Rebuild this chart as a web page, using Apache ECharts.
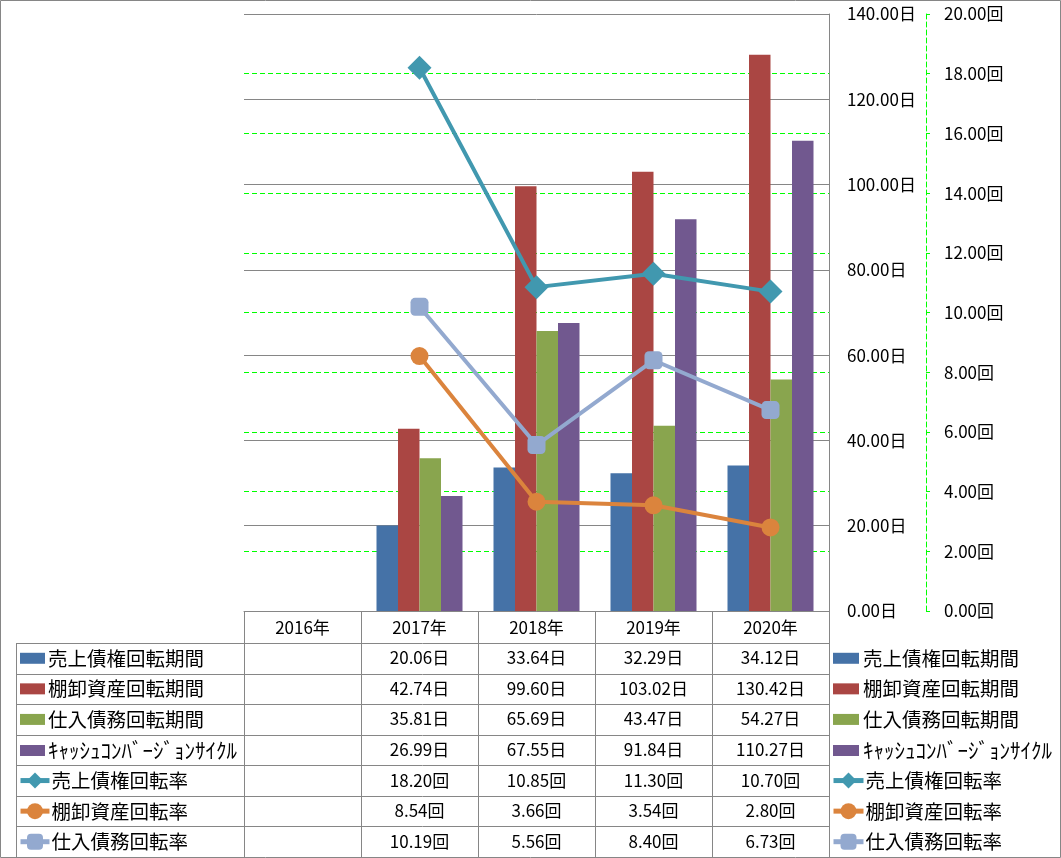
<!DOCTYPE html>
<html>
<head>
<meta charset="utf-8">
<script src="https://cdn.jsdelivr.net/npm/echarts@6/dist/echarts.min.js"></script>
<style>
html,body{margin:0;padding:0;background:#fff;}
#c{width:1061px;height:858px;}
</style>
</head>
<body>
<div id="c"></div>
<script>
// ---- data ----
const categories = ['2016年', '2017年', '2018年', '2019年', '2020年'];
const arDays  = [null, 20.06, 33.64, 32.29, 34.12];
const invDays = [null, 42.74, 99.60, 103.02, 130.42];
const apDays  = [null, 35.81, 65.69, 43.47, 54.27];
const cccDays = [null, 26.99, 67.55, 91.84, 110.27];
const arTurn  = [null, 18.20, 10.85, 11.30, 10.70];
const invTurn = [null, 8.54, 3.66, 3.54, 2.80];
const apTurn  = [null, 10.19, 5.56, 8.40, 6.73];
const dayAxis  = { min: 0, max: 140, interval: 20, unit: '日' };
const turnAxis = { min: 0, max: 20, interval: 2, unit: '回' };

const names = ['売上債権回転期間', '棚卸資産回転期間', '仕入債務回転期間', 'ｷｬｯｼｭｺﾝﾊﾞｰｼﾞｮﾝｻｲｸﾙ',
               '売上債権回転率', '棚卸資産回転率', '仕入債務回転率'];
const barNames = names.slice(0, 4);
const lineNames = names.slice(4);
const rows = [
  { vals: arDays, unit: '日' }, { vals: invDays, unit: '日' }, { vals: apDays, unit: '日' }, { vals: cccDays, unit: '日' },
  { vals: arTurn, unit: '回' }, { vals: invTurn, unit: '回' }, { vals: apTurn, unit: '回' }
];
const colors = ['#4572A7', '#AA4643', '#89A54E', '#71588F', '#4198AF', '#DB843D', '#93A9CF'];

// ---- layout ----
const FONT = '"Noto Sans CJK JP", "Noto Sans", sans-serif';
const GRID_L = 244, GRID_R = 829, GRID_T = 14, GRID_B = 611;
const ROW_TOP = 643, ROW_H = 30.57, TABLE_B = 857;
const GREY = '#868686', GREEN = '#00ff00';

const chart = echarts.init(document.getElementById('c'));

const barSeries = [arDays, invDays, apDays, cccDays].map((d, i) => ({
  name: barNames[i], type: 'bar', yAxisIndex: 0, data: d,
  barWidth: 21.5, barGap: '0%', itemStyle: { color: colors[i] }, z: 2
}));
const lineSym = ['diamond', 'circle', 'roundRect'];
const lineSize = [24, 18, 18];
const lineSeries = [arTurn, invTurn, apTurn].map((d, i) => ({
  name: lineNames[i], type: 'line', yAxisIndex: 1, data: d,
  symbol: lineSym[i], symbolSize: lineSize[i], showSymbol: true,
  lineStyle: { width: 4, color: colors[4 + i] }, itemStyle: { color: colors[4 + i] }, z: 5
}));

function legendCfg(left, top, data, iw, ih, gapText, textH, icon) {
  const cfg = {
    orient: 'vertical', left: left, top: top, padding: 0,
    data: data, itemWidth: iw, itemHeight: ih, itemGap: ROW_H - textH,
    selectedMode: false,
    formatter: n => /^[\uFF61-\uFF9F]+$/.test(n) ? '{k|' + n + '}' : n,
    textStyle: { fontSize: 19.5, fontFamily: FONT, color: '#000', lineHeight: textH, padding: [0, 0, 0, gapText - 5],
      rich: { k: { fontSize: 21, fontFamily: FONT, color: '#000', lineHeight: textH } } },
    lineStyle: { width: 5 }
  };
  if (icon) cfg.icon = icon;
  return cfg;
}

const graphics = [];
// outer border
graphics.push({ type: 'rect', shape: { x: 0.5, y: 0.5, width: 1060, height: 857 }, style: { fill: null, stroke: GREY, lineWidth: 1 }, silent: true });
// table horizontal lines
for (let k = 0; k < rows.length; k++) {
  const y = Math.round(ROW_TOP + k * ROW_H) + 0.5;
  graphics.push({ type: 'line', shape: { x1: 16, y1: y, x2: GRID_R, y2: y }, style: { stroke: GREY, lineWidth: 1 }, silent: true });
}
graphics.push({ type: 'line', shape: { x1: 16.5, y1: ROW_TOP, x2: 16.5, y2: TABLE_B }, style: { stroke: GREY, lineWidth: 1 }, silent: true });

const option = {
  animation: false,
  backgroundColor: '#fff',
  textStyle: { fontFamily: FONT },
  grid: { left: GRID_L, right: 1061 - GRID_R, top: GRID_T, bottom: 858 - GRID_B, containLabel: false },
  legend: [
    legendCfg(833, ROW_TOP + ROW_H / 2 - 10, barNames, 26, 11, 4, 20, 'rect'),
    legendCfg(831, ROW_TOP + 4.5 * ROW_H - 10, lineNames, 30, 20, 2, 20),
    legendCfg(20, ROW_TOP + ROW_H / 2 - 10, barNames, 25, 11, 3, 20, 'rect'),
    legendCfg(18, ROW_TOP + 4.5 * ROW_H - 10, lineNames, 29, 20, 2, 20)
  ],
  xAxis: {
    type: 'category', data: categories, boundaryGap: true,
    axisLine: { show: true, lineStyle: { color: GREY, width: 1 } },
    axisTick: { show: true, interval: 0, length: TABLE_B - GRID_B, lineStyle: { color: GREY, width: 1 } },
    splitLine: { show: false },
    axisLabel: {
      interval: 0, margin: 1, fontSize: 17, color: '#000', fontFamily: FONT,
      lineHeight: ROW_H, verticalAlign: 'top', align: 'center',
      formatter: function (v, idx) {
        const lines = [v];
        rows.forEach(r => { const x = r.vals[idx]; lines.push(x == null ? ' ' : x.toFixed(2) + r.unit); });
        return lines.join('\n');
      }
    }
  },
  yAxis: [
    {
      type: 'value', position: 'right', min: dayAxis.min, max: dayAxis.max, interval: dayAxis.interval,
      axisLine: { show: true, lineStyle: { color: GREY, width: 1 } },
      axisTick: { show: false },
      splitLine: { show: true, lineStyle: { color: GREY, width: 1 } },
      axisLabel: { margin: 18, fontSize: 17, color: '#000', fontFamily: FONT,
        formatter: v => v.toFixed(2) + dayAxis.unit }
    },
    {
      type: 'value', position: 'right', offset: 97, min: turnAxis.min, max: turnAxis.max, interval: turnAxis.interval,
      axisLine: { show: true, lineStyle: { color: GREEN, width: 1, type: [5, 3] } },
      axisTick: { show: true, inside: false, length: 4, lineStyle: { color: GREEN, width: 1 } },
      splitLine: { show: true, showMinLine: false, showMaxLine: false, lineStyle: { color: GREEN, width: 1, type: [5, 3] } },
      axisLabel: { margin: 18, fontSize: 17, color: '#000', fontFamily: FONT,
        formatter: v => v.toFixed(2) + turnAxis.unit }
    }
  ],
  series: barSeries.concat(lineSeries),
  graphic: graphics
};
chart.setOption(option);
</script>
</body>
</html>
